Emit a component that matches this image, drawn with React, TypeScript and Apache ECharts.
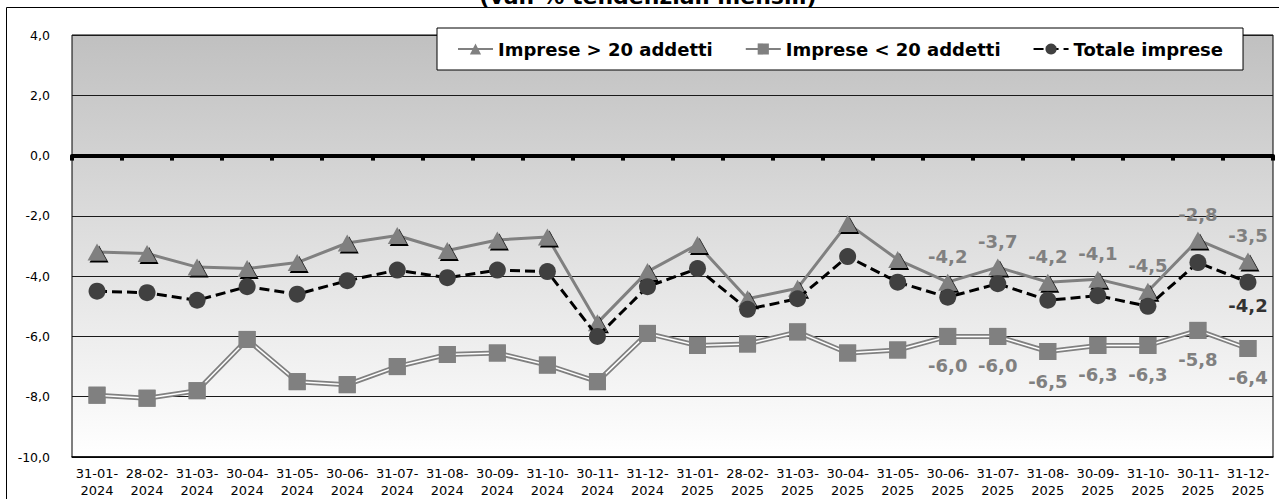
import React, { useEffect, useRef } from "react";
import * as echarts from "echarts";

const categories = [
  "31-01-2024", "28-02-2024", "31-03-2024", "30-04-2024", "31-05-2024", "30-06-2024",
  "31-07-2024", "31-08-2024", "30-09-2024", "31-10-2024", "30-11-2024", "31-12-2024",
  "31-01-2025", "28-02-2025", "31-03-2025", "30-04-2025", "31-05-2025", "30-06-2025",
  "31-07-2025", "31-08-2025", "30-09-2025", "31-10-2025", "30-11-2025", "31-12-2025",
];

const impreseOver20 = [
  -3.2, -3.25, -3.7, -3.75, -3.55, -2.9, -2.65, -3.15, -2.8, -2.7, -5.55, -3.85,
  -2.95, -4.75, -4.4, -2.25, -3.45, -4.2, -3.7, -4.2, -4.1, -4.5, -2.8, -3.5,
];

const impreseUnder20 = [
  -7.95, -8.05, -7.8, -6.1, -7.5, -7.6, -7.0, -6.6, -6.55, -6.95, -7.5, -5.9,
  -6.3, -6.25, -5.85, -6.55, -6.45, -6.0, -6.0, -6.5, -6.3, -6.3, -5.8, -6.4,
];

const totaleImprese = [
  -4.5, -4.55, -4.8, -4.35, -4.6, -4.15, -3.8, -4.05, -3.8, -3.85, -6.0, -4.35,
  -3.75, -5.1, -4.75, -3.35, -4.2, -4.7, -4.25, -4.8, -4.65, -5.0, -3.55, -4.2,
];

const seriesNames = ["Imprese > 20 addetti", "Imprese < 20 addetti", "Totale imprese"];
const titleText = "(var. % tendenziali mensili)";
const labelFromIndex = 17;

const fmt = (v: number) => v.toFixed(1).replace(".", ",");

export default function App() {
  const ref = useRef<HTMLDivElement>(null);

  useEffect(() => {
    if (!ref.current) return;
    const chart = echarts.init(ref.current, null, { renderer: "svg" });
    const font = "DejaVu Sans";
    const gray = "#808080";

    const labelBase = {
      fontFamily: font,
      fontWeight: "bold" as const,
      fontSize: 18,
      formatter: (p: any) => fmt(p.value),
    };

    const option: any = {
      animation: false,
      backgroundColor: "#ffffff",
      graphic: [
        {
          type: "rect",
          z: 0,
          shape: { x: 6.5, y: 7.5, width: 1400, height: 700 },
          style: { fill: "none", stroke: "#000", lineWidth: 1 },
          silent: true,
        },
        {
          type: "text",
          z: 10,
          style: {
            text: titleText,
            x: 648,
            y: -4,
            align: "center",
            verticalAlign: "middle",
            fontFamily: font,
            fontWeight: "bold",
            fontSize: 22,
            fill: "#000",
          },
        },
      ],
      legend: {
        data: seriesNames,
        left: 437,
        top: 28,
        padding: [12, 20],
        itemGap: 32,
        itemWidth: 35,
        itemHeight: 14,
        borderColor: "#000",
        borderWidth: 1,
        backgroundColor: "#ffffff",
        textStyle: { fontFamily: font, fontWeight: "bold", fontSize: 18, color: "#000" },
        z: 20,
      },
      grid: {
        left: 72,
        top: 35,
        right: 6,
        bottom: 41,
        show: true,
        borderColor: "#000",
        borderWidth: 1,
        backgroundColor: new echarts.graphic.LinearGradient(0, 0, 0, 1, [
          { offset: 0, color: "#c0c0c0" },
          { offset: 1, color: "#ffffff" },
        ]),
      },
      xAxis: [
        {
          type: "category",
          data: categories,
          position: "bottom",
          boundaryGap: true,
          axisLine: { onZero: false, lineStyle: { color: "#000", width: 1.5 } },
          axisTick: { show: false },
          axisLabel: {
            interval: 0,
            margin: 8,
            fontFamily: font,
            fontSize: 13,
            lineHeight: 17,
            color: "#000",
            formatter: (v: string) => v.slice(0, 6) + "\n" + v.slice(6),
          },
          splitLine: { show: false },
        },
        {
          type: "category",
          data: categories,
          position: "bottom",
          boundaryGap: true,
          axisLine: { onZero: true, lineStyle: { color: "#000", width: 4 } },
          axisTick: { show: true, interval: 0, length: 5, lineStyle: { color: "#000", width: 4 } },
          axisLabel: { show: false, interval: 0 },
          splitLine: { show: false },
          z: 3,
        },
      ],
      yAxis: {
        type: "value",
        min: -10,
        max: 4,
        interval: 2,
        axisLine: { show: false },
        axisTick: { show: false },
        axisLabel: {
          margin: 22,
          fontFamily: font,
          fontSize: 12.5,
          color: "#000",
          formatter: (v: number) => fmt(v),
        },
        splitLine: { show: true, lineStyle: { color: "#1a1a1a", width: 1 } },
      },
      series: [
        {
          name: seriesNames[1],
          type: "line",
          data: impreseUnder20,
          z: 2,
          color: gray,
          symbol: "rect",
          symbolSize: 17,
          itemStyle: { color: gray },
          lineStyle: { color: gray, width: 5 },
          silent: true,
        },
        {
          name: "_white",
          type: "line",
          data: impreseUnder20,
          z: 3,
          showSymbol: false,
          symbol: "none",
          lineStyle: { color: "#ffffff", width: 1.5 },
          silent: true,
        },
        {
          name: "_squares",
          type: "line",
          data: impreseUnder20.map((v, i) => ({ value: v, label: { show: i >= labelFromIndex } })),
          z: 4,
          symbol: "rect",
          symbolSize: 17,
          itemStyle: { color: gray },
          lineStyle: { width: 0, opacity: 0 },
          label: { ...labelBase, position: "bottom", distance: 12, color: gray },
          silent: true,
        },
        {
          name: seriesNames[0],
          type: "line",
          data: impreseOver20.map((v, i) => ({ value: v, label: { show: i >= labelFromIndex } })),
          z: 5,
          color: gray,
          symbol: "triangle",
          symbolSize: [19, 17],
          itemStyle: {
            color: gray,
            shadowColor: "#000",
            shadowBlur: 0,
            shadowOffsetX: 2,
            shadowOffsetY: 2,
          },
          lineStyle: { color: gray, width: 3 },
          label: { ...labelBase, position: "top", distance: 8, color: gray },
          silent: true,
        },
        {
          name: seriesNames[2],
          type: "line",
          data: totaleImprese.map((v, i) => ({ value: v, label: { show: i === totaleImprese.length - 1 } })),
          z: 6,
          color: "#404040",
          symbol: "circle",
          symbolSize: 17,
          itemStyle: { color: "#404040" },
          lineStyle: { color: "#000", width: 3, type: [10, 5] },
          label: { ...labelBase, position: "bottom", distance: 6, color: "#333" },
          silent: true,
        },
      ],
    };

    chart.setOption(option);
    return () => chart.dispose();
  }, []);

  return (
    <div
      ref={ref}
      style={{ position: "absolute", left: 0, top: 0, width: 1279, height: 499 }}
    />
  );
}
